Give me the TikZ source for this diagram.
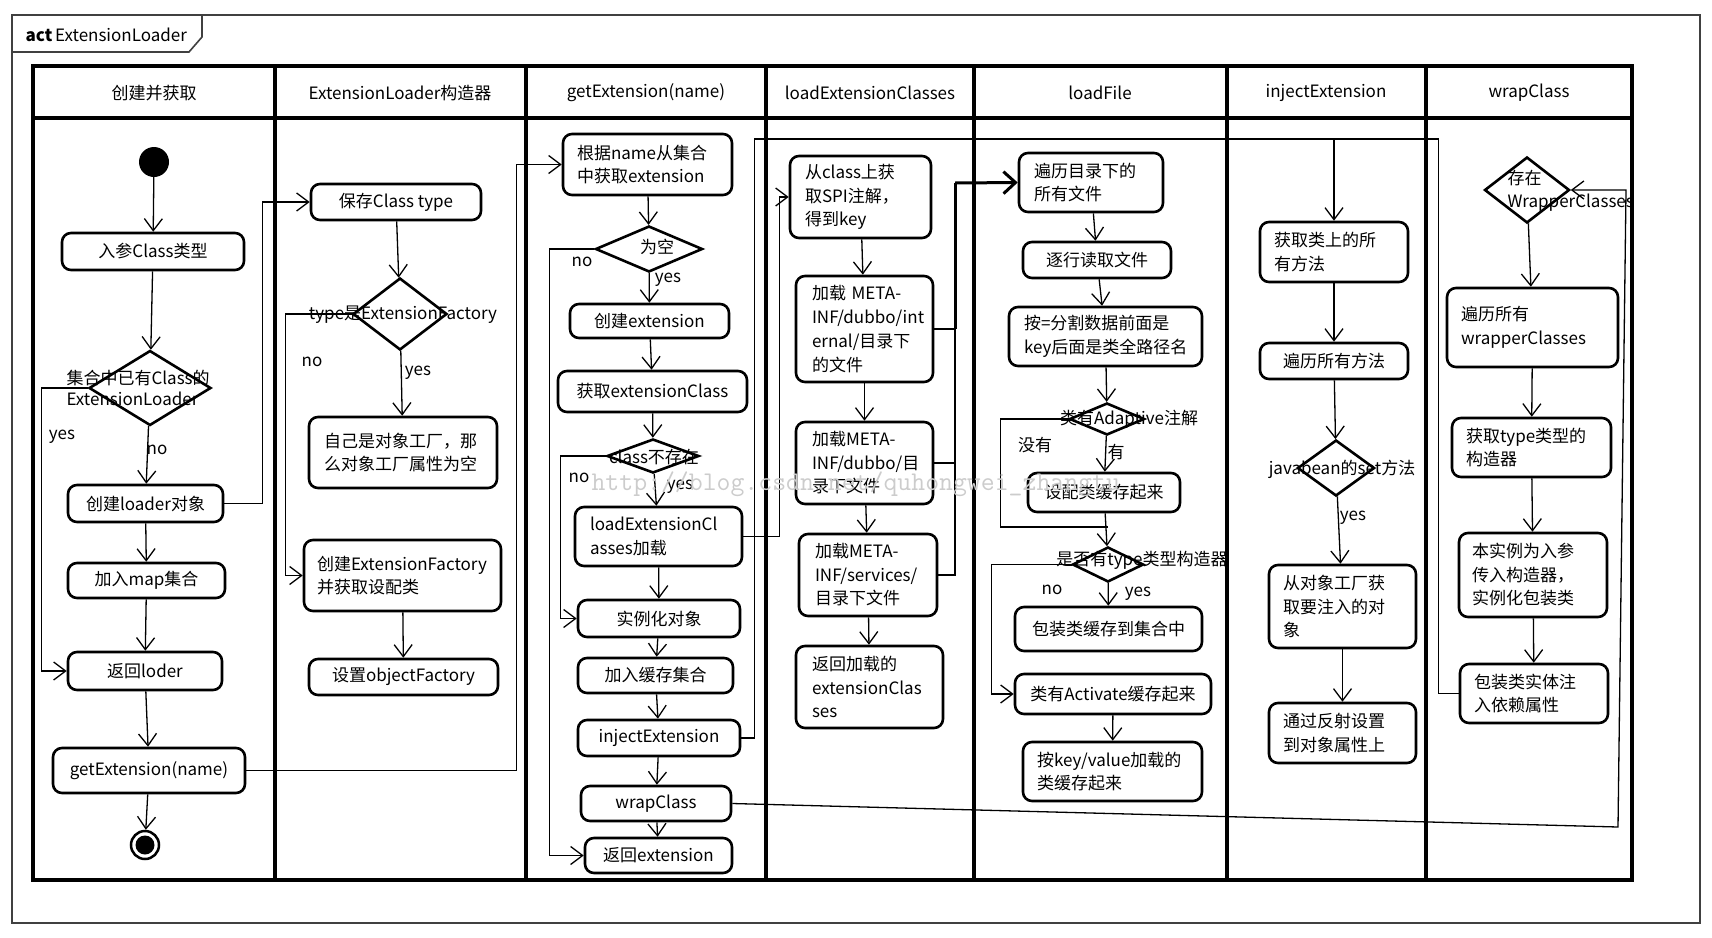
\documentclass[tikz,border=0pt]{standalone}
\usepackage{fontspec}
\setmainfont{Noto Sans CJK SC}
\usetikzlibrary{shapes.geometric,arrows.meta}

\begin{document}
\begin{tikzpicture}[x=1pt,y=-1pt,
  every node/.style={font=\fontsize{17}{23.5}\selectfont},
  box/.style={draw, line width=2.6pt, rounded corners=9pt, inner sep=0pt},
  tbox/.style={box, align=left, text width=#1},
  decision/.style={draw, diamond, line width=2.6pt, inner sep=0pt},
  flow/.style={line width=1.3pt, -{Straight Barb[length=12pt,width=18pt]}},
  link/.style={line width=1.3pt},
  lane/.style={line width=3.5pt}]

  \useasboundingbox[fill=white] (0,0) rectangle (1712,937);

  % frame
  \draw[line width=1.6pt, black!75] (12,15) rectangle (1700,923);
  \draw[line width=1.6pt, black!75] (12,52) -- (189,52) -- (202,37) -- (202,15);
  \node[anchor=west] (title) at (22,35) {\textbf{act}\,ExtensionLoader};

  % lanes
  \draw[lane] (33,66) rectangle (1632,880);
  \draw[lane] (33,118) -- (1632,118);
  \foreach \x in {275,526,766,974,1227,1426}
    \draw[lane] (\x,66) -- (\x,880);
  \foreach \x/\hd in {154/创建并获取, 400/ExtensionLoader构造器, 646/getExtension(name),
      870/loadExtensionClasses, 1100/loadFile, 1326/injectExtension, 1529/wrapClass}
    \node (head\x) at (\x,93) {\hd};

  % 创建并获取
  \node[fill, circle, inner sep=0pt, minimum size=30pt] (start) at (154,162) {};
  \node[box, minimum width=182pt, minimum height=37pt] (inparam) at (153,251.5) {入参Class类型};
  \node[decision, minimum width=122pt, minimum height=75pt] (hasloader) at (150,388) {};
  \node[anchor=west, align=left, font=\fontsize{17}{21}\selectfont] (t-hasloader) at (63,388) {集合中已有Class的\\ExtensionLoader};
  \node[box, minimum width=155pt, minimum height=37pt] (newloader) at (145.5,503.5) {创建loader对象};
  \node[box, minimum width=157pt, minimum height=35pt] (addmap) at (146.5,580.5) {加入map集合};
  \node[box, minimum width=154pt, minimum height=38pt] (retloader) at (145,671) {返回loder};
  \node[box, minimum width=192pt, minimum height=45pt] (getext) at (149,770.5) {getExtension(name)};
  \node[draw, circle, line width=2.5pt, inner sep=0pt, minimum size=28pt] (end) at (145,845) {};
  \fill (end) circle (9.5pt);

  \draw[flow] (start) -- (inparam);
  \draw[flow] (inparam) -- (hasloader);
  \draw[flow] (hasloader) -- (newloader);
  \draw[flow] (hasloader.west) -- ++(-46,0) |- (retloader.west);
  \draw[flow] (newloader) -- (addmap);
  \draw[flow] (addmap) -- (retloader);
  \draw[flow] (retloader) -- (getext);
  \draw[flow] (getext) -- (end);
  \node (yes-loader) at (62,437) {yes};
  \node (no-loader) at (157,450) {no};

  % ExtensionLoader构造器
  \node[box, minimum width=170pt, minimum height=36pt] (savetype) at (396,202) {保存Class type};
  \node[decision, minimum width=94pt, minimum height=72pt] (isfactory) at (400,314) {};
  \node (t-isfactory) at (403,315) {type是ExtensionFactory};
  \node[tbox=158pt, minimum width=188pt, minimum height=71pt] (selfnull) at (403,452.5) {自己是对象工厂，那\\么对象工厂属性为空};
  \node[tbox=171pt, minimum width=197pt, minimum height=71pt] (newfactory) at (402.5,575.5) {创建ExtensionFactory\\并获取设配类};
  \node[box, minimum width=189pt, minimum height=36pt] (setobj) at (403.5,677) {设置objectFactory};

  \draw[flow] (savetype) -- (isfactory);
  \draw[flow] (isfactory) -- (selfnull);
  \draw[flow] (isfactory.west) -- ++(-66,0) |- (newfactory.west);
  \draw[flow] (newfactory) -- (setobj);
  \node (no-factory) at (312,362) {no};
  \node (yes-factory) at (418,373) {yes};

  % getExtension(name)
  \node[tbox=141pt, minimum width=169pt, minimum height=61pt] (byname) at (647.5,164.5) {根据name从集合\\中获取extension};
  \node[decision, minimum width=107pt, minimum height=46pt] (isnull) at (649,249) {};
  \node (t-isnull) at (657,247) {为空};
  \node[box, minimum width=159pt, minimum height=34pt] (newext) at (649.5,321) {创建extension};
  \node[box, minimum width=189pt, minimum height=41pt] (getclass) at (652.5,391.5) {获取extensionClass};
  \node[decision, minimum width=92pt, minimum height=34pt] (noclass) at (653,456) {};
  \node (t-noclass) at (654,457) {class不存在};
  \node[tbox=137pt, minimum width=167pt, minimum height=59pt] (loadcls) at (658.5,536.5) {loadExtensionCl\\asses加载};
  \node[box, minimum width=162pt, minimum height=37pt] (newinst) at (659,618.5) {实例化对象};
  \node[box, minimum width=155pt, minimum height=35pt] (addcache) at (655.5,675.5) {加入缓存集合};
  \node[box, minimum width=162pt, minimum height=36pt] (injext) at (659,738) {injectExtension};
  \node[box, minimum width=150pt, minimum height=35pt] (wrapcls) at (656,803.5) {wrapClass};
  \node[box, minimum width=147pt, minimum height=35pt] (retext) at (658.5,855.5) {返回extension};

  \draw[flow] (byname) -- (isnull);
  \draw[flow] (isnull) -- (newext);
  \draw[flow] (isnull.west) -- ++(-45,0) |- (retext.west);
  \draw[flow] (newext) -- (getclass);
  \draw[flow] (getclass) -- (noclass);
  \draw[flow] (noclass) -- (loadcls);
  \draw[flow] (noclass.west) -- ++(-45,0) |- (newinst.west);
  \draw[flow] (loadcls) -- (newinst);
  \draw[flow] (newinst) -- (addcache);
  \draw[flow] (addcache) -- (injext);
  \draw[flow] (injext) -- (wrapcls);
  \draw[flow] (wrapcls) -- (retext);
  \node (no-null) at (582,262) {no};
  \node (yes-null) at (668,280) {yes};
  \node (no-class) at (579,478) {no};
  \node (yes-class) at (680,487) {yes};

  % loadExtensionClasses
  \node[tbox=111pt, minimum width=141pt, minimum height=82pt] (fromclass) at (860.5,197) {从class上获\\取SPI注解，\\得到key};
  \node[tbox=105pt, minimum width=137pt, minimum height=106pt, font=\fontsize{17}{24}\selectfont] (loadinternal) at (864.5,329) {加载 META-\\INF/dubbo/int\\ernal/目录下\\的文件};
  \node[tbox=105pt, minimum width=137pt, minimum height=82pt] (loaddubbo) at (864.5,463) {加载META-\\INF/dubbo/目\\录下文件};
  \node[tbox=106pt, minimum width=138pt, minimum height=82pt] (loadservices) at (868,575) {加载META-\\INF/services/\\目录下文件};
  \node[tbox=115pt, minimum width=147pt, minimum height=82pt] (retclasses) at (869.5,687) {返回加载的\\extensionClas\\ses};

  \draw[flow] (fromclass) -- (loadinternal);
  \draw[flow] (loadinternal) -- (loaddubbo);
  \draw[flow] (loaddubbo) -- (loadservices);
  \draw[flow] (loadservices) -- (retclasses);

  % loadFile
  \node[tbox=114pt, minimum width=144pt, minimum height=59pt] (eachfile) at (1091,182.5) {遍历目录下的\\所有文件};
  \node[box, minimum width=148pt, minimum height=36pt] (readline) at (1097,260) {逐行读取文件};
  \node[tbox=163pt, minimum width=193pt, minimum height=59pt] (splitkey) at (1105.5,336.5) {按=分割数据前面是\\key后面是类全路径名};
  \node[decision, minimum width=75pt, minimum height=32pt] (isadaptive) at (1107,419) {};
  \node (t-isadaptive) at (1129,419) {类有Adaptive注解};
  \node[box, minimum width=152pt, minimum height=39pt] (cacheadaptive) at (1104,492.5) {设配类缓存起来};
  \node[decision, minimum width=71pt, minimum height=35pt] (hasctor) at (1108,564.5) {};
  \node (t-hasctor) at (1142,560) {是否有type类型构造器};
  \node[box, minimum width=187pt, minimum height=44pt] (cachewrapper) at (1108.5,629) {包装类缓存到集合中};
  \node[box, minimum width=196pt, minimum height=40pt] (cacheactivate) at (1113,694) {类有Activate缓存起来};
  \node[tbox=151pt, minimum width=179pt, minimum height=59pt] (cachekv) at (1112.5,771.5) {按key/value加载的\\类缓存起来};

  \draw[flow] (eachfile) -- (readline);
  \draw[flow] (readline) -- (splitkey);
  \draw[flow] (splitkey) -- (isadaptive);
  \draw[flow] (isadaptive) -- (cacheadaptive);
  \draw[flow] (cacheadaptive) -- (hasctor);
  \coordinate (ctorjoin) at (1108,527);
  \draw[link] (isadaptive.west) -- ++(-68,0) |- (ctorjoin);
  \draw[flow] (hasctor) -- (cachewrapper);
  \draw[flow] (hasctor.west) -- ++(-80,0) |- (cacheactivate.west);
  \draw[flow] (cacheactivate) -- (cachekv);
  \node (no-adaptive) at (1035,445) {没有};
  \node (yes-adaptive) at (1116,452) {有};
  \node (no-ctor) at (1052,590) {no};
  \node (yes-ctor) at (1138,594) {yes};

  % injectExtension
  \node[tbox=120pt, minimum width=148pt, minimum height=60pt] (getmethods) at (1334,252) {获取类上的所\\有方法};
  \node[box, minimum width=148pt, minimum height=36pt] (eachmethod) at (1334,361) {遍历所有方法};
  \node[decision, minimum width=77pt, minimum height=56pt] (issetter) at (1336,468) {};
  \node (t-issetter) at (1342,469) {javabean的set方法};
  \node[tbox=119pt, minimum width=147pt, minimum height=83pt] (getobj) at (1342.5,606.5) {从对象工厂获\\取要注入的对\\象};
  \node[tbox=119pt, minimum width=147pt, minimum height=60pt] (setfield) at (1342.5,733) {通过反射设置\\到对象属性上};

  \draw[flow] (getmethods) -- (eachmethod);
  \draw[flow] (eachmethod) -- (issetter);
  \draw[flow] (issetter) -- (getobj);
  \draw[flow] (getobj) -- (setfield);
  \node (yes-setter) at (1353,518) {yes};

  % wrapClass
  \node[decision, minimum width=85pt, minimum height=66pt] (haswrap) at (1527,190) {};
  \node[anchor=west, align=left, font=\fontsize{17}{23}\selectfont] (t-haswrap) at (1504,191) {存在\\WrapperClasses};
  \node[tbox=143pt, minimum width=171pt, minimum height=79pt] (eachwrap) at (1532.5,327.5) {遍历所有\\wrapperClasses};
  \node[tbox=131pt, minimum width=159pt, minimum height=59pt] (getctor) at (1531.5,447.5) {获取type类型的\\构造器};
  \node[tbox=122pt, minimum width=148pt, minimum height=84pt] (newwrap) at (1533,575) {本实例为入参\\传入构造器，\\实例化包装类};
  \node[tbox=120pt, minimum width=148pt, minimum height=59pt] (wrapinject) at (1534,693.5) {包装类实体注\\入依赖属性};

  \draw[flow] (haswrap) -- (eachwrap);
  \draw[flow] (eachwrap) -- (getctor);
  \draw[flow] (getctor) -- (newwrap);
  \draw[flow] (newwrap) -- (wrapinject);

  % between lanes
  \draw[flow] (newloader.east) -- ++(38,0) |- (savetype.west);
  \draw[flow] (getext.east) -- ++(270,0) |- (byname.west);
  \draw[flow] (loadcls.east) -- ++(36,0) |- (fromclass.west);

  \coordinate (filejoin) at (955,183);
  \draw[link] (loadinternal.east) -- (loadinternal.east -| filejoin);
  \draw[link] (loaddubbo.east) -- (loaddubbo.east -| filejoin);
  \draw[link] (loadservices.east) -| (filejoin);
  \draw[line width=3pt] (filejoin) -- (filejoin |- loadinternal.east);
  \draw[line width=3pt, -{Straight Barb[length=12pt,width=22pt]}] (filejoin) -- (eachfile.west);

  \coordinate (injtop) at (1334,139);
  \draw[flow] (injext.east) -- ++(13,0) |- (injtop) -- (getmethods);
  \draw[link] (wrapinject.west) -- ++(-20,0) |- (injtop);

  \coordinate (wrapback1) at (1618,827);
  \coordinate (wrapback2) at (1626,190);
  \draw[flow] (wrapcls.east) -- (wrapback1) -- (wrapback2) -- (haswrap.east);

  \node[anchor=west, text=black!20, font=\ttfamily\fontsize{27}{27}\selectfont] (mark) at (588,484) {http://blog.csdn.net/quhongwei\_zhangtu};
\end{tikzpicture}
\end{document}
